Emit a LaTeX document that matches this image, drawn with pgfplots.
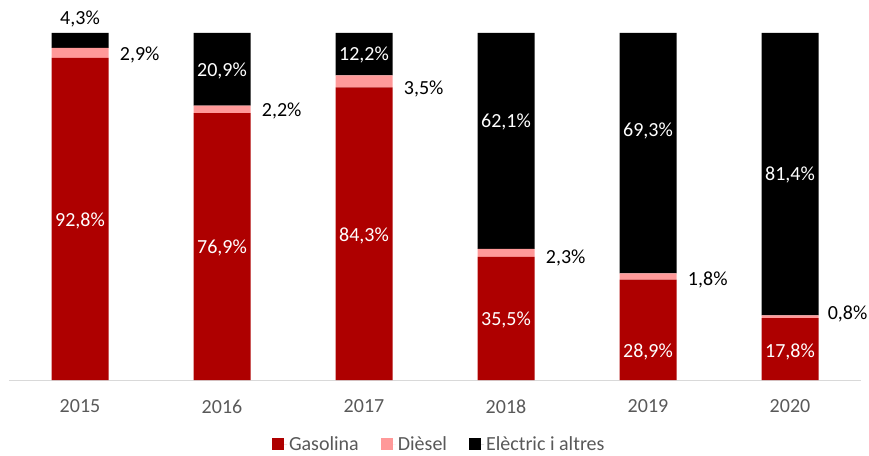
\documentclass[border=0pt]{standalone}
\usepackage{pgfplots}
\pgfplotsset{compat=1.18}
\usepackage{fontspec}
\setmainfont{Carlito}
\definecolor{gasred}{HTML}{AE0000}
\definecolor{dieselpink}{HTML}{FF9999}
\definecolor{axgray}{HTML}{D9D9D9}
\definecolor{txtgray}{HTML}{595959}
\newcommand\lf{\fontsize{20}{24}\selectfont}

\begin{document}
\begin{tikzpicture}[x=1pt,y=1pt]
\useasboundingbox (0,0) rectangle (869,455);
\begin{axis}[
  at={(9pt,75pt)}, anchor=south west,
  scale only axis, width=852pt, height=347pt,
  xmin=-0.5, xmax=5.5, ymin=0, ymax=100,
  ybar stacked, bar width=57pt,
  clip=false,
  axis x line*=bottom, axis y line=none,
  x axis line style={draw=axgray, line width=1pt},
  xtick={0,...,5},
  xticklabels={2015,2016,2017,2018,2019,2020},
  xtick style={draw=none},
  xticklabel style={font=\lf, text=txtgray, yshift=-16pt},
  legend style={at={(0.505,-0.185)}, anchor=center, draw=none, font=\lf,
    text=txtgray, legend columns=3,
    /tikz/every even column/.append style={column sep=20pt}},
  legend image code/.code={\fill[#1,draw=none] (0pt,-6pt) rectangle (12pt,6pt);
    \path (0pt,0pt) -- (15pt,0pt);},
]
\addplot[fill=gasred, draw=none] coordinates {(0,92.8) (1,76.9) (2,84.3) (3,35.5) (4,28.9) (5,17.8)};
\addlegendentry{Gasolina}
\addplot[fill=dieselpink, draw=none] coordinates {(0,2.9) (1,2.2) (2,3.5) (3,2.3) (4,1.8) (5,0.8)};
\addlegendentry{Dièsel}
\addplot[fill=black, draw=none] coordinates {(0,4.3) (1,20.9) (2,12.2) (3,62.2) (4,69.3) (5,81.4)};
\addlegendentry{Elèctric i altres}

% label anchors (text drawn after the axis, on top of the bars)
\coordinate (g0) at (axis cs:0,45.8);
\coordinate (g1) at (axis cs:1,38.0);
\coordinate (g2) at (axis cs:2,41.5);
\coordinate (g3) at (axis cs:3,17.3);
\coordinate (g4) at (axis cs:4,8.1);
\coordinate (g5) at (axis cs:5,8.1);
\coordinate (d0) at (axis cs:0.28,93.7);
\coordinate (d1) at (axis cs:1.28,77.5);
\coordinate (d2) at (axis cs:2.28,83.9);
\coordinate (d3) at (axis cs:3.28,35.2);
\coordinate (d4) at (axis cs:4.28,28.8);
\coordinate (d5) at (axis cs:5.265,19.0);
\coordinate (e0) at (axis cs:0,104.0);
\coordinate (e1) at (axis cs:1,89.0);
\coordinate (e2) at (axis cs:2,93.7);
\coordinate (e3) at (axis cs:3,74.4);
\coordinate (e4) at (axis cs:4,71.8);
\coordinate (e5) at (axis cs:5,59.1);
\end{axis}

\begin{scope}[every node/.style={font=\lf}]
\node[text=white] at (g0) {92,8\%};
\node[text=white] at (g1) {76,9\%};
\node[text=white] at (g2) {84,3\%};
\node[text=white] at (g3) {35,5\%};
\node[text=white] at (g4) {28,9\%};
\node[text=white] at (g5) {17,8\%};
\node[anchor=west, inner sep=0pt] at (d0) {2,9\%};
\node[anchor=west, inner sep=0pt] at (d1) {2,2\%};
\node[anchor=west, inner sep=0pt] at (d2) {3,5\%};
\node[anchor=west, inner sep=0pt] at (d3) {2,3\%};
\node[anchor=west, inner sep=0pt] at (d4) {1,8\%};
\node[anchor=west, inner sep=0pt] at (d5) {0,8\%};
\node at (e0) {4,3\%};
\node[text=white] at (e1) {20,9\%};
\node[text=white] at (e2) {12,2\%};
\node[text=white] at (e3) {62,1\%};
\node[text=white] at (e4) {69,3\%};
\node[text=white] at (e5) {81,4\%};
\end{scope}
\end{tikzpicture}
\end{document}
